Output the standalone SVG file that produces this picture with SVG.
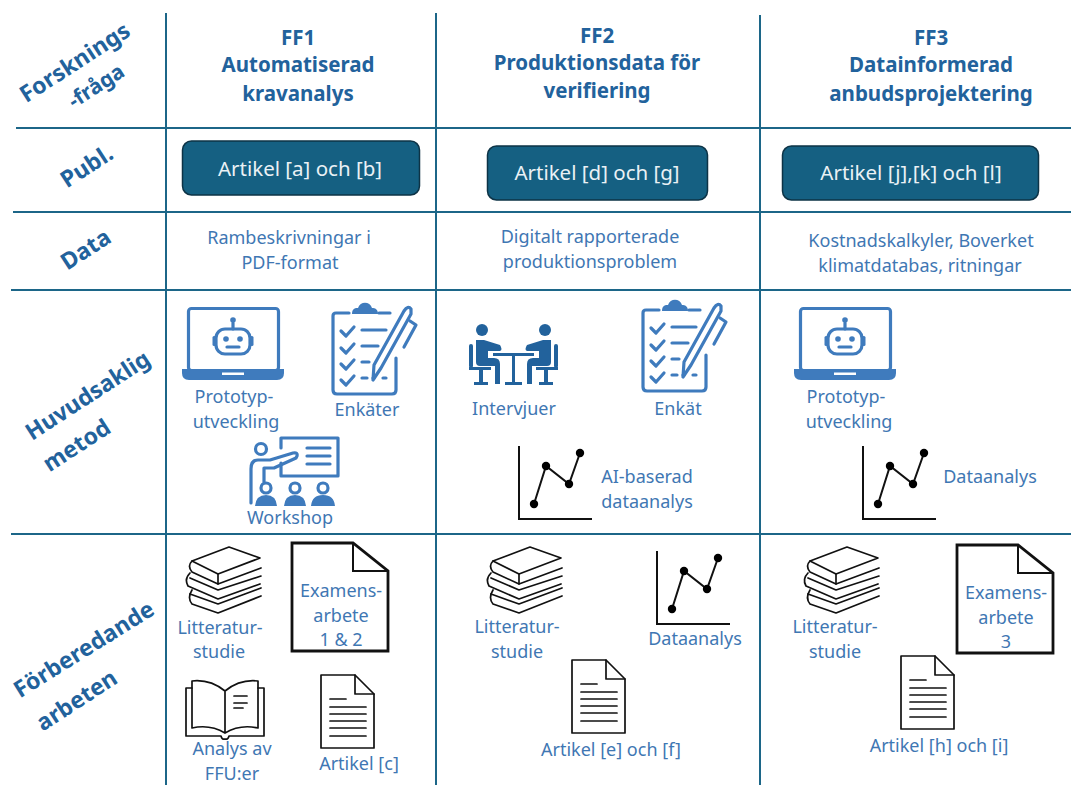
<svg xmlns="http://www.w3.org/2000/svg" width="1071" height="785" viewBox="0 0 1071 785">
<style>
text{font-family:"Noto Sans","Open Sans","Liberation Sans",sans-serif;text-anchor:middle}
.t{font-size:18px;fill:#3f77b3}
.h{font-size:20.500px;font-weight:700;fill:#22629c}
.r{font-size:23px;font-weight:700;fill:#22629c}
.b{font-size:20.500px;fill:#eaf1f5}
.g{stroke:#1c6688;stroke-width:2;fill:none}
.box{fill:#156082;stroke:#0d3346;stroke-width:1.500}
.bl{fill:none;stroke:#3f7bbd;stroke-width:3.200;stroke-linecap:round;stroke-linejoin:round}
.blf{fill:#3f7bbd}
.k{fill:#fff;stroke:#111;stroke-width:1.700;stroke-linejoin:round;stroke-linecap:round}
.kn{fill:none;stroke:#111;stroke-width:1.700;stroke-linecap:round;stroke-linejoin:round}
</style>
<defs>
<g id="laptop">
<rect x="188.500" y="308.500" width="90" height="62" rx="3" class="bl"/>
<path d="M182 369H284V373Q284 380 277 380H189Q182 380 182 373Z" class="blf"/>
<rect x="222" y="372.500" width="22" height="2.500" fill="#fff"/>
<path d="M233 323V329" class="bl"/><circle cx="233" cy="320" r="2.800" class="blf"/>
<rect x="216" y="329" width="34" height="25" rx="9" class="bl"/>
<rect x="212.500" y="336" width="3.500" height="10" rx="1.500" class="blf"/><rect x="250" y="336" width="3.500" height="10" rx="1.500" class="blf"/>
<circle cx="226" cy="339" r="2.800" class="blf"/><circle cx="240" cy="339" r="2.800" class="blf"/>
<path d="M227 347H239" class="bl"/>
</g>
<g id="clip">
<path d="M349 313H336Q333 313 333 316V390Q333 394 337 394H392Q396 394 396 390V358" class="bl"/>
<path d="M379 313H390" class="bl"/>
<path d="M352 314C352 308 356 308 358 308C360 301 370 301 372 308C375 308 378 309 378 314Z" class="blf"/>
<path d="M341 331L346 336L354 327M341 348L346 353L354 344M341 364L346 369L354 360M341 380L346 385L354 376" class="bl"/>
<path d="M362 330H386M362 346H378M362 362H369M362 378H367M373 378H374M383 378H386" class="bl"/>
<path d="M411 314L381 368L373 380L374 365L404 311Q408 305 411 309Z" class="bl" fill="#fff"/>
<path d="M410 321L416 325L404 347" class="bl"/>
</g>
<g id="chart">
<path d="M519 446V519H592" fill="none" stroke="#111" stroke-width="2"/>
<path d="M534 504L546 466L569 484L580 453" fill="none" stroke="#111" stroke-width="2"/>
<circle cx="534" cy="504" r="4.200"/><circle cx="546" cy="466" r="4.200"/><circle cx="569" cy="484" r="4.200"/><circle cx="580" cy="453" r="4.200"/>
</g>
<g id="books">
<path d="M192 561L229 547L260 558L218 574Z" class="k"/>
<path d="M192 561Q187 566 192 572L218 584L261 568" class="kn"/>
<path d="M218 574V584" class="kn"/>
<path d="M190 573Q184 579 188 586L218 599L260 584" class="kn"/>
<path d="M190 578L218 590L261 576" class="kn"/>
<path d="M192 590Q187 598 192 604L218 613L261 596" class="kn"/>
<path d="M190 594L218 604L261 588" class="kn"/>
</g>
<g id="bigdoc">
<path d="M292 543H353L388 571V651H292Z" fill="#fff" stroke="#111" stroke-width="2.800"/>
<path d="M353 543V571H388" fill="none" stroke="#111" stroke-width="2"/>
</g>
<g id="smalldoc">
<path d="M321 675H355L374 694V748H321Z" class="k"/>
<path d="M355 675V694H374" class="kn"/>
<path d="M330 699H346M330 707H366M330 714H366M330 721H366M330 728H366M330 736H366" class="kn"/>
</g>
</defs>

<g id="connectors">
<path class="g" d="M166 13V785M436 13V785M760 15V785M16 128H1071M13 212H1071M11 290H1071M11 534H1071"/>
</g>

<g id="row-labels">
<text class="r" transform="translate(79,69) rotate(-33)">Forsknings</text>
<text class="r" transform="translate(100,92) rotate(-33)" style="font-size:21px">-fråga</text>
<text class="r" transform="translate(91,173) rotate(-33)">Publ.</text>
<text class="r" transform="translate(90,256) rotate(-33)">Data</text>
<text class="r" transform="translate(92,402) rotate(-33)">Huvudsaklig</text>
<text class="r" transform="translate(81,452) rotate(-33)">metod</text>
<text class="r" transform="translate(88,656) rotate(-32)">Förberedande</text>
<text class="r" transform="translate(81,707) rotate(-33)">arbeten</text>
</g>

<g id="ff1-head"><text class="h" x="298" y="45">FF1</text><text class="h" x="298" y="72">Automatiserad</text><text class="h" x="298" y="101">kravanalys</text></g>
<g id="ff2-head"><text class="h" x="597" y="43">FF2</text><text class="h" x="597" y="70">Produktionsdata för</text><text class="h" x="597" y="98">verifiering</text></g>
<g id="ff3-head"><text class="h" x="931" y="45">FF3</text><text class="h" x="931" y="72">Datainformerad</text><text class="h" x="931" y="101">anbudsprojektering</text></g>

<g id="pub1"><rect class="box" x="182.500" y="141" width="237" height="54" rx="9"/><text class="b" x="300" y="176">Artikel [a] och [b]</text></g>
<g id="pub2"><rect class="box" x="487.500" y="146" width="220" height="54" rx="9"/><text class="b" x="597" y="180">Artikel [d] och [g]</text></g>
<g id="pub3"><rect class="box" x="782.500" y="146" width="256" height="54" rx="9"/><text class="b" x="911" y="180">Artikel [j],[k] och [l]</text></g>

<g id="data1"><text class="t" x="289" y="244">Rambeskrivningar i</text><text class="t" x="290" y="269">PDF-format</text></g>
<g id="data2"><text class="t" x="590" y="243">Digitalt rapporterade</text><text class="t" x="590" y="268">produktionsproblem</text></g>
<g id="data3"><text class="t" x="921" y="247">Kostnadskalkyler, Boverket</text><text class="t" x="920" y="272">klimatdatabas, ritningar</text></g>

<g id="m1-proto"><use href="#laptop"/><text class="t" x="234" y="403">Prototyp-</text><text class="t" x="236" y="428">utveckling</text></g>
<g id="m1-enk"><use href="#clip"/><text class="t" x="367" y="416">Enkäter</text></g>
<g id="m1-work">
<circle cx="261" cy="449" r="5.500" class="bl"/>
<path d="M281 438H338V476H281M281 438V448M281 463V476" class="bl"/>
<path d="M307 448H330M307 456H330M307 464H330" class="bl"/>
<path d="M251 503V469Q251 460 258 460H270L293 453Q298 452 297 456L296 458L274 468H264V482" class="bl"/>
<circle cx="266" cy="488" r="5" class="bl"/><circle cx="295" cy="488" r="5" class="bl"/><circle cx="323" cy="488" r="5" class="bl"/>
<path d="M255 506Q256 495 266 495Q276 495 277 506ZM284 506Q285 495 295 495Q305 495 306 506ZM311 506Q312 495 323 495Q334 495 335 506Z" class="blf"/>
<text class="t" x="290" y="524">Workshop</text>
</g>

<g id="m2-int">
<g fill="#22629c">
<circle cx="482" cy="330" r="6"/><circle cx="545" cy="330" r="6"/>
<path d="M476 340H484L500 345Q503 350 500 351H488V358H494Q500 358 500 364V384H495V366H480Q476 366 476 362Z"/>
<path d="M551 340H543L527 345Q524 350 527 351H539V358H533Q527 358 527 364V384H532V366H547Q551 366 551 362Z"/>
<rect x="469" y="344" width="4" height="24" rx="2"/><rect x="554" y="344" width="4" height="24" rx="2"/>
<rect x="469" y="367" width="22" height="3"/><rect x="536" y="367" width="22" height="3"/>
<rect x="479" y="370" width="4" height="13"/><rect x="544" y="370" width="4" height="13"/>
<rect x="474" y="382" width="14" height="3"/><rect x="539" y="382" width="14" height="3"/>
<rect x="493" y="353" width="41" height="3"/><rect x="512" y="355" width="3" height="28"/><rect x="505" y="382" width="17" height="3"/>
</g>
<text class="t" x="514" y="415">Intervjuer</text>
</g>
<g id="m2-enk"><use href="#clip" x="310" y="-3"/><text class="t" x="678" y="415">Enkät</text></g>
<g id="m2-ai"><use href="#chart"/><text class="t" x="647" y="483">AI-baserad</text><text class="t" x="647" y="508">dataanalys</text></g>

<g id="m3-proto"><use href="#laptop" x="612"/><text class="t" x="846" y="403">Prototyp-</text><text class="t" x="849" y="428">utveckling</text></g>
<g id="m3-da"><use href="#chart" x="344"/><text class="t" x="990" y="483">Dataanalys</text></g>

<g id="p1-lit"><use href="#books"/><text class="t" x="220" y="634">Litteratur-</text><text class="t" x="219" y="658">studie</text></g>
<g id="p1-ex"><use href="#bigdoc"/><text class="t" x="341" y="597">Examens-</text><text class="t" x="341" y="622">arbete</text><text class="t" x="341" y="646">1 &amp; 2</text></g>
<g id="p1-ffu">
<path d="M192 687V728Q210 724 225 733V691Q210 679 192 681ZM225 691Q240 679 258 681V728Q240 724 225 733" class="k"/>
<path d="M192 688H186V736H221Q222 740 225 739Q228 740 229 736H264V688H258" class="kn"/>
<path d="M234 696H247M234 703H247M234 708H243" class="kn"/>
<text class="t" x="232" y="755">Analys av</text><text class="t" x="232" y="780">FFU:er</text>
</g>
<g id="p1-c"><use href="#smalldoc"/><text class="t" x="359" y="770">Artikel [c]</text></g>

<g id="p2-lit"><use href="#books" x="301"/><text class="t" x="517" y="633">Litteratur-</text><text class="t" x="517" y="658">studie</text></g>
<g id="p2-da"><use href="#chart" x="138" y="105"/><text class="t" x="695" y="645">Dataanalys</text></g>
<g id="p2-ef"><use href="#smalldoc" x="251" y="-15"/><text class="t" x="611" y="756">Artikel [e] och [f]</text></g>

<g id="p3-lit"><use href="#books" x="618"/><text class="t" x="835" y="633">Litteratur-</text><text class="t" x="835" y="658">studie</text></g>
<g id="p3-ex"><use href="#bigdoc" x="665" y="2"/><text class="t" x="1006" y="599">Examens-</text><text class="t" x="1006" y="624">arbete</text><text class="t" x="1006" y="648">3</text></g>
<g id="p3-hi"><use href="#smalldoc" x="580" y="-19"/><text class="t" x="939" y="752">Artikel [h] och [i]</text></g>
</svg>
